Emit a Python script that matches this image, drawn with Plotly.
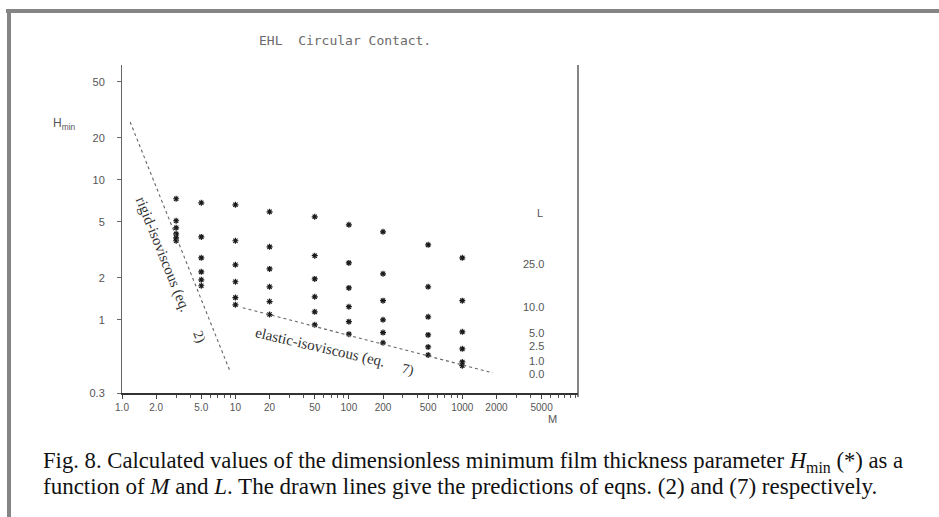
import plotly.graph_objects as go

# Dimensionless load parameter M (columns of computed points)
M_values = [3, 5, 10, 20, 50, 100, 200, 500, 1000]

# Computed H_min for each viscosity-pressure parameter L
L_values = [25.0, 10.0, 5.0, 2.5, 1.0, 0.0]
H_L25 = [7.32, 6.85, 6.63, 5.91, 5.44, 4.77, 4.25, 3.43, 2.77]
H_L10 = [5.10, 3.91, 3.67, 3.32, 2.87, 2.55, 2.13, 1.72, 1.37]
H_L5 = [4.54, 2.77, 2.47, 2.31, 1.96, 1.69, 1.37, 1.05, 0.82]
H_L2_5 = [4.11, 2.20, 1.87, 1.72, 1.46, 1.24, 1.00, 0.78, 0.62]
H_L1 = [3.85, 1.93, 1.44, 1.35, 1.14, 0.97, 0.81, 0.64, 0.50]
H_L0 = [3.67, 1.75, 1.28, 1.09, 0.92, 0.79, 0.685, 0.56, 0.47]
H_series = [H_L25, H_L10, H_L5, H_L2_5, H_L1, H_L0]

# Asymptotic predictions: rigid-isoviscous (eq. 2) and elastic-isoviscous (eq. 7)
rigid_M = [1.18, 9.0]
rigid_H = [25.9, 0.425]
elastic_M = [11.6, 1860]
elastic_H = [1.22, 0.418]

# Axis ticks
x_tickvals = [1, 2, 5, 10, 20, 50, 100, 200, 500, 1000, 2000, 5000]
x_ticktext = ["1.0", "2.0", "5.0", "10", "20", "50", "100", "200", "500", "1000", "2000", "5000"]
y_tickvals = [0.3, 1, 2, 5, 10, 20, 50]
y_ticktext = ["0.3", "1", "2", "5", "10", "20", "50"]

# Labels for the L curves at the right-hand side
L_labels = ["25.0", "10.0", "5.0", "2.5", "1.0", "0.0"]

# ---- page geometry (pixels) ----
W, H = 939, 517
PL, PR, PT, PB = 122, 578, 65, 393


def fx(px):
    return (px - PL) / (PR - PL)


def fy(py):
    return (PB - py) / (PB - PT)


fig = go.Figure()

for L, hs in zip(L_values, H_series):
    fig.add_trace(go.Scatter(
        x=M_values, y=hs, mode="markers", name=f"L = {L}",
        marker=dict(symbol="asterisk-open", size=5, color="#1a1a1a",
                    line=dict(width=1.2, color="#1a1a1a")),
        showlegend=False,
    ))

fig.add_trace(go.Scatter(
    x=rigid_M, y=rigid_H, mode="lines", showlegend=False,
    line=dict(color="#666666", width=1.1, dash="dot"),
))
fig.add_trace(go.Scatter(
    x=elastic_M, y=elastic_H, mode="lines", showlegend=False,
    line=dict(color="#666666", width=1.1, dash="dot"),
))

gray_txt = "#555555"
serif = "Liberation Serif, Times New Roman, serif"
ann = []

# Title
ann.append(dict(text="EHL  Circular Contact.", x=fx(345), y=fy(40), xref="paper", yref="paper",
                showarrow=False, xanchor="center", yanchor="middle",
                font=dict(family="DejaVu Sans Mono", size=13, color="#6a6a6a")))
# Y axis title
ann.append(dict(text="H<sub>min</sub>", x=fx(78), y=fy(124), xref="paper", yref="paper",
                showarrow=False, xanchor="right", yanchor="middle",
                font=dict(family="Liberation Sans", size=12, color=gray_txt)))
# X axis title
ann.append(dict(text="M", x=fx(552), y=fy(419), xref="paper", yref="paper",
                showarrow=False, xanchor="center", yanchor="middle",
                font=dict(family="Liberation Sans", size=11, color=gray_txt)))

# L column header and values
ann.append(dict(text="L", x=fx(545), y=fy(213), xref="paper", yref="paper",
                showarrow=False, xanchor="right", yanchor="middle",
                font=dict(family="Liberation Sans", size=11, color=gray_txt)))
label_py = [264, 307, 333, 346, 361, 374]
for txt, py in zip(L_labels, label_py):
    ann.append(dict(text=txt, x=fx(546), y=fy(py), xref="paper", yref="paper",
                    showarrow=False, xanchor="right", yanchor="middle",
                    font=dict(family="Liberation Sans", size=11, color=gray_txt)))

# Line labels
ann.append(dict(text="rigid-isoviscous (eq.", x=fx(163), y=fy(254), xref="paper", yref="paper",
                showarrow=False, textangle=68, xanchor="center", yanchor="middle",
                font=dict(family=serif, size=15, color="#333333")))
ann.append(dict(text="2)", x=fx(199), y=fy(337), xref="paper", yref="paper",
                showarrow=False, textangle=68, xanchor="center", yanchor="middle",
                font=dict(family=serif, size=14, color="#333333")))
ann.append(dict(text="elastic-isoviscous (eq.", x=fx(320), y=fy(347), xref="paper", yref="paper",
                showarrow=False, textangle=13, xanchor="center", yanchor="middle",
                font=dict(family=serif, size=15, color="#333333")))
ann.append(dict(text="7)", x=fx(408), y=fy(370), xref="paper", yref="paper",
                showarrow=False, textangle=13, xanchor="center", yanchor="middle",
                font=dict(family=serif, size=14, color="#333333")))

# Caption
cap1 = "Fig. 8. Calculated values of the dimensionless minimum film thickness parameter <i>H</i><sub>min</sub> (*) as a"
cap2 = "function of <i>M</i> and <i>L</i>. The drawn lines give the predictions of eqns. (2) and (7) respectively."
ann.append(dict(text=cap1, x=fx(41), y=fy(462), xref="paper", yref="paper",
                showarrow=False, xanchor="left", yanchor="middle",
                font=dict(family=serif, size=22.7, color="#111111")))
ann.append(dict(text=cap2, x=fx(41), y=fy(486), xref="paper", yref="paper",
                showarrow=False, xanchor="left", yanchor="middle",
                font=dict(family=serif, size=23, color="#111111")))

shapes = [
    # right-hand frame line
    dict(type="line", xref="paper", yref="paper", x0=1, x1=1, y0=fy(397), y1=1,
         line=dict(color="#444444", width=1.3)),
    # page border
    dict(type="rect", xref="paper", yref="paper", x0=fx(6), x1=fx(W), y0=fy(13), y1=fy(9),
         fillcolor="#858585", line=dict(width=0), layer="above"),
    dict(type="rect", xref="paper", yref="paper", x0=fx(7), x1=fx(11), y0=fy(H), y1=fy(9),
         fillcolor="#858585", line=dict(width=0), layer="above"),
]

fig.update_layout(
    width=W, height=H,
    margin=dict(l=PL, r=W - PR, t=PT, b=H - PB, pad=0),
    paper_bgcolor="white", plot_bgcolor="white",
    showlegend=False,
    annotations=ann, shapes=shapes,
)

fig.update_xaxes(
    type="log", range=[0, 4.02],
    tickvals=x_tickvals, ticktext=x_ticktext,
    ticks="outside", ticklen=4, tickcolor="#444444", tickwidth=1,
    minor=dict(ticks="outside", ticklen=3, tickcolor="#555555", dtick="D1", showgrid=False),
    showline=True, linecolor="#333333", linewidth=2,
    showgrid=False, zeroline=False,
    tickfont=dict(family="Liberation Sans", size=10, color=gray_txt),
)
fig.update_yaxes(
    type="log", range=[-0.5229, 1.82],
    tickvals=y_tickvals, ticktext=y_ticktext,
    ticks="outside", ticklen=4, tickcolor="#666666",
    showline=True, linecolor="#666666", linewidth=1,
    showgrid=False, zeroline=False,
    tickfont=dict(family="Liberation Sans", size=11, color=gray_txt),
    ticklabelstandoff=10,
)

fig.write_html("out.html")
